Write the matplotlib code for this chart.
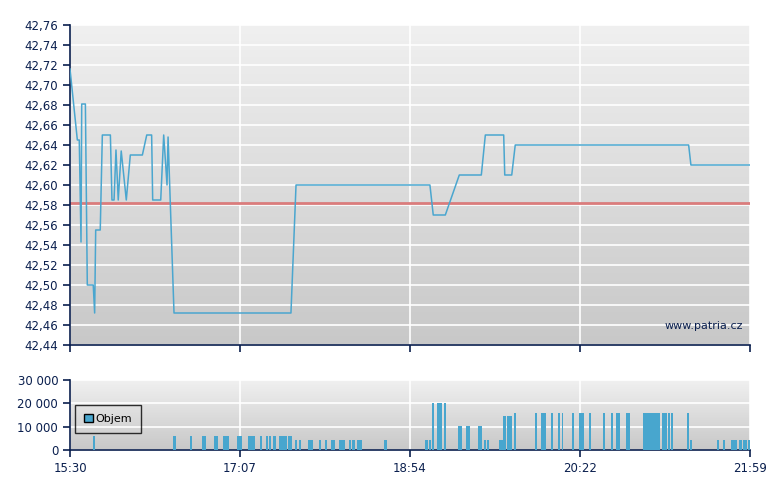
import matplotlib

matplotlib.use("Agg")
import matplotlib.pyplot as plt
import numpy as np
from matplotlib.colors import LinearSegmentedColormap
from matplotlib.patches import Patch
from matplotlib.ticker import FuncFormatter

# price trace: minutes after 15:30 and price
price_min = [0, 4.2, 5.3, 6.3, 6.7, 8.8, 9.9, 13.3, 14.1, 14.7, 17.3, 18.5, 23.1,
             24.0, 25.2, 26.3, 27.6, 29.3, 32.2, 34.5, 41.4, 43.9, 46.7, 47.3,
             51.9, 53.6, 55.5, 56.1, 59.5, 126.4, 129.3, 205.9, 207.8, 214.7,
             222.7, 235.3, 237.6, 248.1, 248.7, 252.7, 254.7, 353.9, 355.2, 389]
price = [42.716, 42.645, 42.645, 42.543, 42.681, 42.681, 42.50, 42.50, 42.472,
         42.555, 42.555, 42.65, 42.65, 42.585, 42.585, 42.635, 42.585, 42.634,
         42.585, 42.63, 42.63, 42.65, 42.65, 42.585, 42.585, 42.65, 42.60,
         42.648, 42.472, 42.472, 42.60, 42.60, 42.57, 42.57, 42.61, 42.61,
         42.65, 42.65, 42.61, 42.61, 42.64, 42.64, 42.62, 42.62]
prev_close = 42.582

# volume blocks: start / end minute after 15:30 and volume
vol_start = [12.9, 58.9, 68.5, 75.5, 82.2, 87.4, 95.4, 101.8, 108.5, 111.9, 113.7,
             116.3, 119.4, 124.5, 128.5, 130.8, 136.0, 142.3, 145.7, 149.1, 153.7,
             159.4, 161.3, 164.0, 179.6, 203.1, 205.4, 207.1, 209.9, 213.9, 221.9,
             226.5, 233.4, 236.8, 238.7, 245.4, 247.7, 250.0, 254.0, 266.0, 269.4,
             275.1, 279.1, 281.3, 287.2, 291.2, 296.9, 304.9, 309.5, 312.3, 318.1,
             327.8, 338.6, 342.1, 343.8, 353.0, 354.7, 370.1, 373.5, 378.1, 382.7,
             385.0, 387.8]
vol_end = [14.3, 60.6, 69.8, 77.8, 84.7, 91.0, 98.4, 105.8, 109.8, 113.3, 115.0,
           117.7, 124.3, 127.0, 129.6, 132.1, 138.8, 143.4, 147.0, 151.4, 157.3,
           160.5, 163.2, 167.0, 181.2, 205.0, 206.5, 208.2, 212.8, 215.1, 224.2,
           228.8, 235.7, 238.0, 239.8, 247.7, 249.4, 252.8, 255.1, 267.1, 272.3,
           276.3, 280.3, 282.2, 288.3, 294.0, 298.0, 306.0, 310.6, 314.6, 320.3,
           337.5, 341.5, 343.2, 345.0, 354.2, 355.8, 371.3, 374.7, 381.5, 384.4,
           387.3, 389.0]
volume = [6000] * 14 + [4300] * 13 + [20200] * 3 + [10500] * 3 + [4300] * 3 \
    + [14400] * 2 + [16000] * 18 + [4300] * 7

tick_labels = ["15:30", "17:07", "18:54", "20:22", "21:59"]
session_len = 389

navy = "#0A1F4E"
line_blue = "#4AA6CF"
bar_blue = "#48A6CE"

plt.rcParams["font.family"] = ["DejaVu Sans"]
plt.rcParams["font.size"] = 8.5

fig = plt.figure(figsize=(7.8, 4.9), dpi=100)
ax = fig.add_axes([70 / 780, 1 - 345 / 490, 680 / 780, 320 / 490])
axv = fig.add_axes([70 / 780, 1 - 450 / 490, 680 / 780, 70 / 490])

grad = np.linspace(0, 1, 256).reshape(-1, 1)
bg_cmap = LinearSegmentedColormap.from_list("bg", ["#F0F0F0", "#C8C8C8"])
xticks = np.linspace(0, session_len, len(tick_labels))


def style_axes(a):
    # light at the top, darker towards the bottom
    a.imshow(grad, cmap=bg_cmap, aspect="auto", extent=[0, 1, 0, 1],
             origin="upper", transform=a.transAxes, zorder=0)
    a.set_xlim(0, session_len)
    a.set_xticks(xticks)
    for s in ["top", "right"]:
        a.spines[s].set_visible(False)
    for s in ["left", "bottom"]:
        a.spines[s].set_color(navy)
        a.spines[s].set_linewidth(1.2)
    a.tick_params(colors=navy, direction="out", length=5, width=1.2,
                  labelcolor=navy)
    a.grid(True, color="white", linewidth=1.2, zorder=1)
    a.set_axisbelow(True)


style_axes(ax)
ax.set_ylim(42.44, 42.76)
ax.set_yticks(np.arange(42.44, 42.7601, 0.02))
ax.yaxis.set_major_formatter(FuncFormatter(lambda v, p: f"{v:.2f}".replace(".", ",")))
ax.set_xticklabels([])
ax.axhline(prev_close, color="#DA7C7C", linewidth=2, zorder=2)
ax.plot(price_min, price, color=line_blue, linewidth=1.1, zorder=3)
ax.text(0.99, 0.06, "www.patria.cz", transform=ax.transAxes, ha="right",
        va="center", color=navy, fontsize=8, zorder=4)

style_axes(axv)
axv.set_ylim(0, 30000)
axv.set_yticks([0, 10000, 20000, 30000])
axv.yaxis.set_major_formatter(FuncFormatter(lambda v, p: f"{int(v):,}".replace(",", " ")))
axv.set_xticklabels(tick_labels)
axv.bar(vol_start, volume, width=np.array(vol_end) - np.array(vol_start),
        align="edge", color=bar_blue, zorder=3)
leg = axv.legend(handles=[Patch(facecolor=bar_blue, edgecolor="black", label="Objem")],
                 loc="lower left", bbox_to_anchor=(0.007, 0.243), borderaxespad=0,
                 frameon=True, fancybox=False, handlelength=0.8, handleheight=0.8,
                 borderpad=0.8, handletextpad=0.3, fontsize=8)
leg.get_frame().set_edgecolor("black")
leg.get_frame().set_facecolor("none")
leg.get_frame().set_linewidth(1)

fig.savefig("out.png", dpi=100)
